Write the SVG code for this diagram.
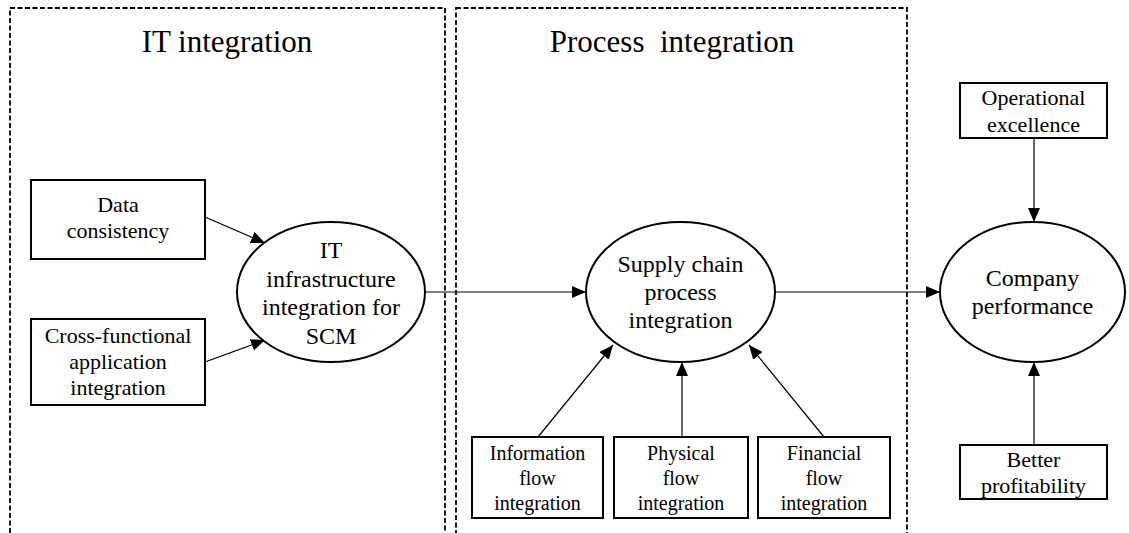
<svg xmlns="http://www.w3.org/2000/svg" width="1129" height="533" viewBox="0 0 1129 533">
  <style>
    .frame { fill: none; stroke: #000; stroke-width: 1.8; stroke-dasharray: 5 2.5; }
    .box { fill: #fff; stroke: #000; stroke-width: 2; }
    .oval { fill: #fff; stroke: #000; stroke-width: 2; }
    .edge { fill: none; stroke: #000; stroke-width: 1.2; marker-end: url(#arrow); }
    text { fill: #000; text-anchor: middle; }
    .title { font-size: 31px; white-space: pre; }
    .lbl24 { font-size: 24px; }
    .lbl22 { font-size: 22px; }
    .lbl20 { font-size: 20px; }
  </style>
  <defs>
    <marker id="arrow" markerUnits="userSpaceOnUse" markerWidth="14" markerHeight="12" refX="14" refY="6" orient="auto">
      <path d="M0,0 L14,6 L0,12 z" fill="#000"/>
    </marker>
  </defs>
  <rect width="1129" height="533" fill="#fff"/>

  <g font-family="'Liberation Serif', 'DejaVu Serif', serif">
  <!-- section frames, open at the bottom -->
  <g id="frame-it">
    <rect class="frame" x="10" y="8" width="435" height="540"/>
    <text class="title" x="227" y="52">IT integration</text>
  </g>
  <g id="frame-process">
    <rect class="frame" x="456" y="8" width="451" height="540"/>
    <text class="title" x="672" y="52" xml:space="preserve">Process  integration</text>
  </g>

  <!-- connectors -->
  <g id="connectors">
    <line class="edge" x1="205" y1="217" x2="265" y2="243"/>
    <line class="edge" x1="205" y1="362" x2="265" y2="340"/>
    <line class="edge" x1="424" y1="292" x2="586" y2="292"/>
    <line class="edge" x1="538" y1="437" x2="613" y2="345"/>
    <line class="edge" x1="682" y1="437" x2="682" y2="362"/>
    <line class="edge" x1="824" y1="437" x2="749" y2="345"/>
    <line class="edge" x1="775" y1="292" x2="940" y2="292"/>
    <line class="edge" x1="1034" y1="138" x2="1034" y2="222"/>
    <line class="edge" x1="1034" y1="445" x2="1034" y2="362"/>
  </g>

  <g id="data-consistency">
    <rect class="box" x="31" y="180" width="174" height="79"/>
    <text class="lbl22" x="118" y="212">Data</text>
    <text class="lbl22" x="118" y="238">consistency</text>
  </g>
  <g id="cross-functional">
    <rect class="box" x="31" y="319" width="174" height="86"/>
    <text class="lbl22" x="118" y="343">Cross-functional</text>
    <text class="lbl22" x="118" y="369">application</text>
    <text class="lbl22" x="118" y="395">integration</text>
  </g>
  <g id="it-infrastructure">
    <ellipse class="oval" cx="331" cy="292" rx="94" ry="70"/>
    <text class="lbl24" x="331" y="258">IT</text>
    <text class="lbl24" x="331" y="286.5">infrastructure</text>
    <text class="lbl24" x="331" y="315">integration for</text>
    <text class="lbl24" x="331" y="343.5">SCM</text>
  </g>
  <g id="supply-chain">
    <ellipse class="oval" cx="680.5" cy="292" rx="94.5" ry="70"/>
    <text class="lbl24" x="680.5" y="272">Supply chain</text>
    <text class="lbl24" x="680.5" y="300">process</text>
    <text class="lbl24" x="680.5" y="328">integration</text>
  </g>
  <g id="information-flow">
    <rect class="box" x="472" y="437" width="131" height="81"/>
    <text class="lbl20" x="537.5" y="460">Information</text>
    <text class="lbl20" x="537.5" y="485">flow</text>
    <text class="lbl20" x="537.5" y="510">integration</text>
  </g>
  <g id="physical-flow">
    <rect class="box" x="614" y="437" width="134" height="81"/>
    <text class="lbl20" x="681" y="460">Physical</text>
    <text class="lbl20" x="681" y="485">flow</text>
    <text class="lbl20" x="681" y="510">integration</text>
  </g>
  <g id="financial-flow">
    <rect class="box" x="758" y="437" width="132" height="81"/>
    <text class="lbl20" x="824" y="460">Financial</text>
    <text class="lbl20" x="824" y="485">flow</text>
    <text class="lbl20" x="824" y="510">integration</text>
  </g>
  <g id="company-performance">
    <ellipse class="oval" cx="1032.5" cy="292" rx="92.5" ry="70"/>
    <text class="lbl24" x="1032.5" y="286">Company</text>
    <text class="lbl24" x="1032.5" y="314">performance</text>
  </g>
  <g id="operational-excellence">
    <rect class="box" x="960" y="83" width="147" height="55"/>
    <text class="lbl22" x="1033.5" y="105">Operational</text>
    <text class="lbl22" x="1033.5" y="132">excellence</text>
  </g>
  <g id="better-profitability">
    <rect class="box" x="960" y="445" width="147" height="54"/>
    <text class="lbl22" x="1033.5" y="467">Better</text>
    <text class="lbl22" x="1033.5" y="493">profitability</text>
  </g>
  </g>
</svg>
